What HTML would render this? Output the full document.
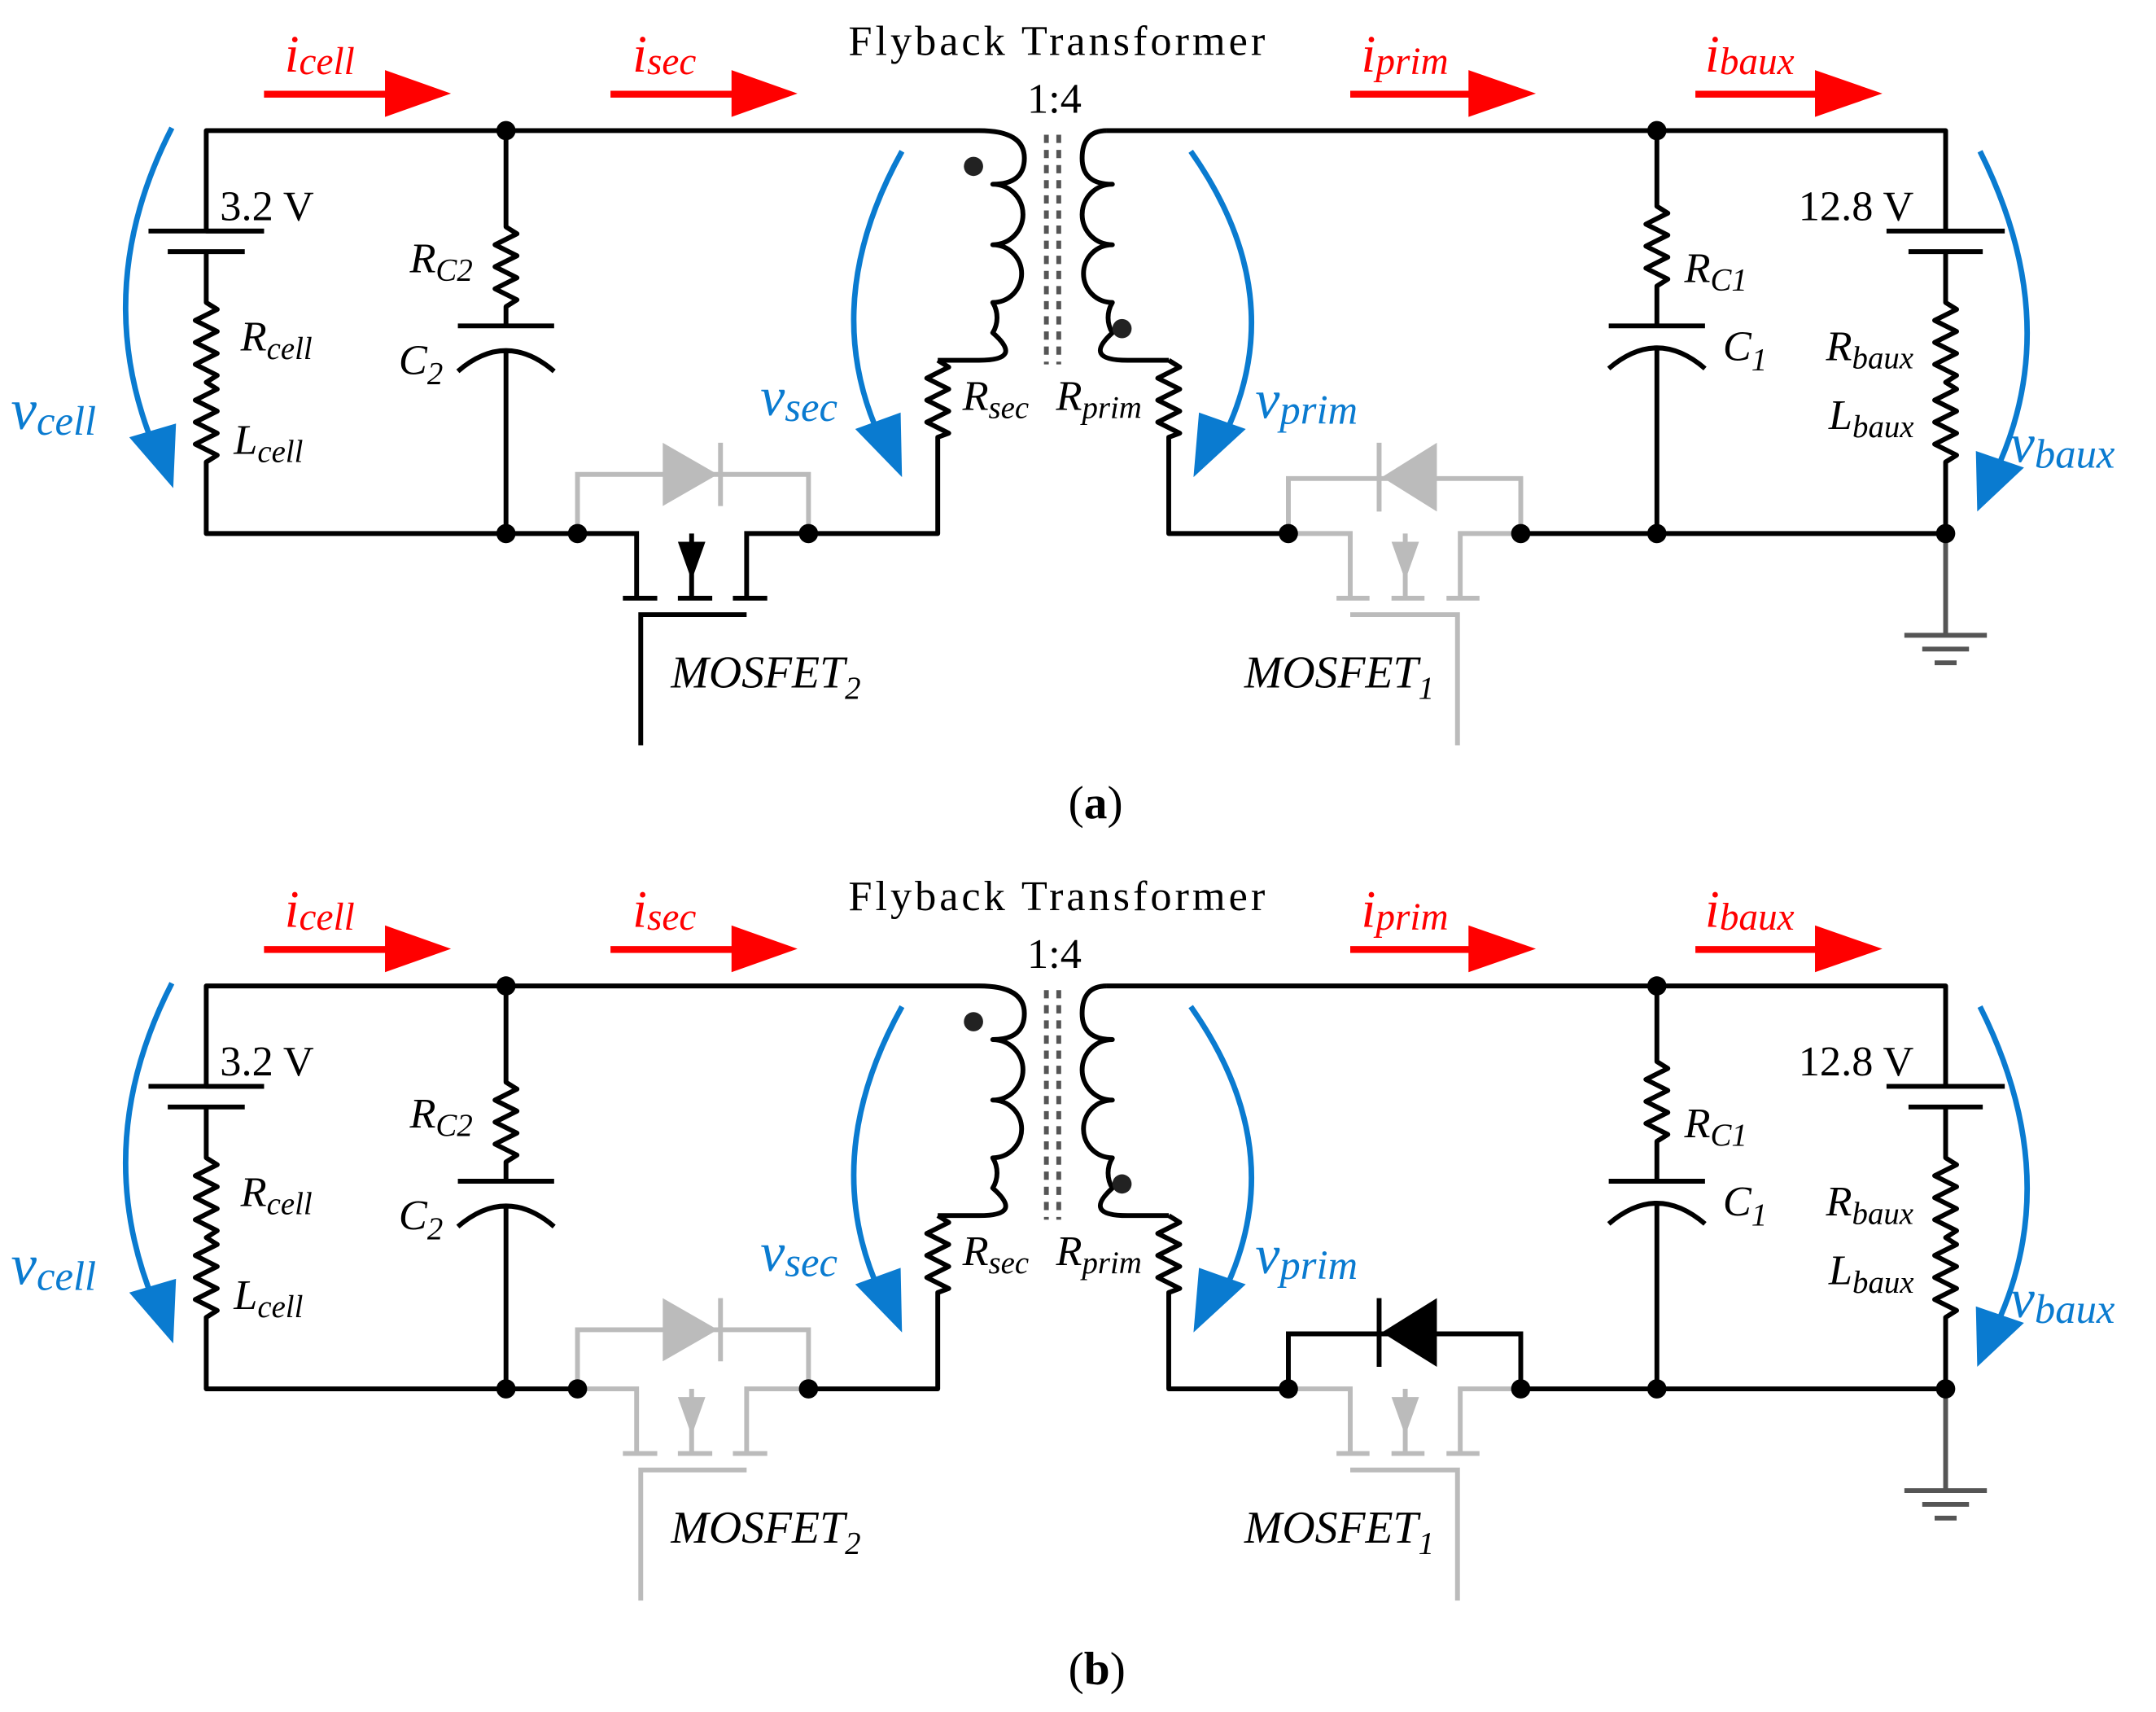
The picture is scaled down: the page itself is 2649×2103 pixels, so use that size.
<!DOCTYPE html>
<html><head><meta charset="utf-8"><style>
html,body{margin:0;padding:0;background:#fff}
svg{display:block}
text{font-family:"Liberation Serif",serif}
.it{font-style:italic}
.r{fill:#ff0000;font-style:italic}
.b{fill:#0a7bd0;font-style:italic}
</style></head><body>
<svg width="2649" height="2103" viewBox="0 0 1568 1245" preserveAspectRatio="none" xmlns="http://www.w3.org/2000/svg">
<!-- ================= PANEL A ================= -->
<g>
<g fill="none" stroke="#000" stroke-width="3.5" stroke-linejoin="round">
  <path d="M192,168 H150 V95 H712 Q745,95 745,115 Q745,134 722,134 A22,22 0 0 1 722,178 A21,21 0 0 1 722,220 A21,21 0 0 1 722,242 Q745,262 712,262 H690 l-8,0"/>
  <path d="M682,262 l8,5 -16,8 16,8 -16,8 16,8 -16,8 16,8 -8,3 V388 H588"/>
  <path d="M805,95 Q787,95 787,115 Q787,134 809,134 A22,22 0 0 0 809,178 A21,21 0 0 0 809,220 A21,21 0 0 0 809,242 Q787,262 820,262 H850"/>
  <path d="M850,262 l8,5 -16,8 16,8 -16,8 16,8 -16,8 16,8 -8,3 V388 H937"/>
  <path d="M805,95 H1415 V168"/>
  <path d="M108,168 H192 M122,183 H178"/>
  <path d="M150,183 V220 l8,5 -16,8 16,8 -16,8 16,8 -16,8 16,8 -8,5 l8,5 -16,8 16,8 -16,8 16,8 -16,8 16,8 -8,5 V388 H420"/>
  <path d="M368,95 V165 l8,5 -16,8 16,8 -16,8 16,8 -16,8 16,8 -8,5 V237 M333,237 H403 M333,270 Q368,240 403,270 M368,254 V388"/>
  <path d="M1205,95 V150 l8,5 -16,8 16,8 -16,8 16,8 -16,8 16,8 -8,5 V237 M1170,237 H1240 M1170,268 Q1205,238 1240,268 M1205,252 V388"/>
  <path d="M1372,168 H1458 M1388,183 H1442"/>
  <path d="M1415,183 V220 l8,5 -16,8 16,8 -16,8 16,8 -16,8 16,8 -8,5 l8,5 -16,8 16,8 -16,8 16,8 -16,8 16,8 -8,5 V388 H1106"/>
</g>
<g fill="none" stroke="#555" stroke-width="3.5"><path d="M1415,388 V462 M1385,462 H1445 M1398,472 H1432 M1407,482 H1423"/></g>
<g stroke="#555" stroke-width="3.5" stroke-dasharray="6,5"><path d="M761,98 V265 M770,98 V265"/></g>
<circle cx="708" cy="121" r="7" fill="#222"/><circle cx="816" cy="239" r="7" fill="#222"/>
<g fill="none" stroke="#000" stroke-width="3.5">
  <path d="M420,388 H463 V435 M543,435 V388 H588 M503,388 V435 M453,435 H478 M493,435 H518 M533,435 H558 M466,542 V447 H543"/>
</g>
<polygon points="493,394 513,394 503,422" fill="#000"/>
<g fill="none" stroke="#bbb" stroke-width="3.5"><path d="M420,388 V345 H588 V388 M524,322 V368"/></g>
<polygon points="482,322 482,368 522,345" fill="#bbb"/>
<g fill="none" stroke="#bbb" stroke-width="3.5">
  <path d="M937,388 H982 V435 M1062,435 V388 H1106 M1022,388 V435 M972,435 H996 M1012,435 H1036 M1052,435 H1076 M982,447 H1060 V542"/>
  <path d="M937,388 V348 H1106 V388 M1003,322 V372"/>
</g>
<polygon points="1012,394 1032,394 1022,422" fill="#bbb"/>
<polygon points="1045,322 1045,372 1005,347" fill="#bbb"/>
<g fill="#000"><circle cx="368" cy="95" r="7"/><circle cx="368" cy="388" r="7"/><circle cx="420" cy="388" r="7"/><circle cx="588" cy="388" r="7"/><circle cx="937" cy="388" r="7"/><circle cx="1106" cy="388" r="7"/><circle cx="1205" cy="95" r="7"/><circle cx="1205" cy="388" r="7"/><circle cx="1415" cy="388" r="7"/></g>
<g fill="#ff0000" stroke="none">
  <rect x="192" y="66" width="95" height="5"/><polygon points="280,51 328,68 280,85"/>
  <rect x="444" y="66" width="95" height="5"/><polygon points="532,51 580,68 532,85"/>
  <rect x="982" y="66" width="90" height="5"/><polygon points="1068,51 1117,68 1068,85"/>
  <rect x="1233" y="66" width="90" height="5"/><polygon points="1320,51 1369,68 1320,85"/>
</g>
<text x="207" y="52" class="r" font-size="38">i<tspan font-size="28" dy="2">cell</tspan></text>
<text x="460" y="52" class="r" font-size="38">i<tspan font-size="28" dy="2">sec</tspan></text>
<text x="990" y="52" class="r" font-size="38">i<tspan font-size="28" dy="2">prim</tspan></text>
<text x="1240" y="52" class="r" font-size="38">i<tspan font-size="28" dy="2">baux</tspan></text>
<g fill="none" stroke="#0a7bd0" stroke-width="4">
  <path d="M125,93 Q65,210 112,325"/>
  <path d="M656,110 Q595,220 640,318"/>
  <path d="M866,110 Q940,215 890,318"/>
  <path d="M1440,110 Q1500,230 1455,335"/>
</g>
<g fill="#0a7bd0">
  <polygon points="94,318 128,308 126,355"/>
  <polygon points="622,312 655,300 656,347"/>
  <polygon points="872,300 906,312 868,347"/>
  <polygon points="1437,328 1472,340 1438,372"/>
</g>
<text x="8" y="312" class="b" font-size="42">v<tspan font-size="30" dy="4">cell</tspan></text>
<text x="553" y="302" class="b" font-size="40">v<tspan font-size="30" dy="4">sec</tspan></text>
<text x="913" y="304" class="b" font-size="40">v<tspan font-size="30" dy="4">prim</tspan></text>
<text x="1462" y="336" class="b" font-size="40">v<tspan font-size="30" dy="4">baux</tspan></text>
<g font-size="31" fill="#000">
<text x="160" y="160">3.2 V</text>
<text x="1308" y="160">12.8 V</text>
<text x="617" y="40" textLength="303" lengthAdjust="spacing">Flyback Transformer</text>
<text x="747" y="82">1:4</text>
<text x="777" y="595" font-size="34">(<tspan font-weight="bold">a</tspan>)</text>
</g>
<g font-size="31" class="it" fill="#000">
<text x="298" y="198">R<tspan font-size="23" dy="6">C2</tspan></text>
<text x="290" y="272">C<tspan font-size="23" dy="7">2</tspan></text>
<text x="175" y="255">R<tspan font-size="23" dy="6">cell</tspan></text>
<text x="170" y="330">L<tspan font-size="23" dy="6">cell</tspan></text>
<text x="700" y="298">R<tspan font-size="23" dy="6">sec</tspan></text>
<text x="768" y="298">R<tspan font-size="23" dy="6">prim</tspan></text>
<text x="1225" y="205">R<tspan font-size="23" dy="6">C1</tspan></text>
<text x="1253" y="262">C<tspan font-size="23" dy="7">1</tspan></text>
<text x="1328" y="262">R<tspan font-size="23" dy="6">baux</tspan></text>
<text x="1330" y="312">L<tspan font-size="23" dy="6">baux</tspan></text>
<text x="488" y="500" font-size="33">MOSFET<tspan font-size="23" dy="8">2</tspan></text>
<text x="905" y="500" font-size="33">MOSFET<tspan font-size="23" dy="8">1</tspan></text>
</g>
</g>

<!-- ================= PANEL B ================= -->
<g transform="translate(0,622)">
<g fill="none" stroke="#000" stroke-width="3.5" stroke-linejoin="round">
  <path d="M192,168 H150 V95 H712 Q745,95 745,115 Q745,134 722,134 A22,22 0 0 1 722,178 A21,21 0 0 1 722,220 A21,21 0 0 1 722,242 Q745,262 712,262 H690 l-8,0"/>
  <path d="M682,262 l8,5 -16,8 16,8 -16,8 16,8 -16,8 16,8 -8,3 V388 H588"/>
  <path d="M805,95 Q787,95 787,115 Q787,134 809,134 A22,22 0 0 0 809,178 A21,21 0 0 0 809,220 A21,21 0 0 0 809,242 Q787,262 820,262 H850"/>
  <path d="M850,262 l8,5 -16,8 16,8 -16,8 16,8 -16,8 16,8 -8,3 V388 H937"/>
  <path d="M805,95 H1415 V168"/>
  <path d="M108,168 H192 M122,183 H178"/>
  <path d="M150,183 V220 l8,5 -16,8 16,8 -16,8 16,8 -16,8 16,8 -8,5 l8,5 -16,8 16,8 -16,8 16,8 -16,8 16,8 -8,5 V388 H420"/>
  <path d="M368,95 V165 l8,5 -16,8 16,8 -16,8 16,8 -16,8 16,8 -8,5 V237 M333,237 H403 M333,270 Q368,240 403,270 M368,254 V388"/>
  <path d="M1205,95 V150 l8,5 -16,8 16,8 -16,8 16,8 -16,8 16,8 -8,5 V237 M1170,237 H1240 M1170,268 Q1205,238 1240,268 M1205,252 V388"/>
  <path d="M1372,168 H1458 M1388,183 H1442"/>
  <path d="M1415,183 V220 l8,5 -16,8 16,8 -16,8 16,8 -16,8 16,8 -8,5 l8,5 -16,8 16,8 -16,8 16,8 -16,8 16,8 -8,5 V388 H1106"/>
</g>
<g fill="none" stroke="#555" stroke-width="3.5"><path d="M1415,388 V462 M1385,462 H1445 M1398,472 H1432 M1407,482 H1423"/></g>
<g stroke="#555" stroke-width="3.5" stroke-dasharray="6,5"><path d="M761,98 V265 M770,98 V265"/></g>
<circle cx="708" cy="121" r="7" fill="#222"/><circle cx="816" cy="239" r="7" fill="#222"/>
<g fill="none" stroke="#bbb" stroke-width="3.5">
  <path d="M420,388 H463 V435 M543,435 V388 H588 M503,388 V435 M453,435 H478 M493,435 H518 M533,435 H558 M466,542 V447 H543"/>
  <path d="M420,388 V345 H588 V388 M524,322 V368"/>
</g>
<polygon points="493,394 513,394 503,422" fill="#bbb"/>
<polygon points="482,322 482,368 522,345" fill="#bbb"/>
<g fill="none" stroke="#bbb" stroke-width="3.5">
  <path d="M937,388 H982 V435 M1062,435 V388 H1106 M1022,388 V435 M972,435 H996 M1012,435 H1036 M1052,435 H1076 M982,447 H1060 V542"/>
</g>
<polygon points="1012,394 1032,394 1022,422" fill="#bbb"/>
<g fill="none" stroke="#000" stroke-width="3.5"><path d="M937,388 V348 H1106 V388 M1003,322 V372"/></g>
<polygon points="1045,322 1045,372 1005,347" fill="#000"/>
<g fill="#000"><circle cx="368" cy="95" r="7"/><circle cx="368" cy="388" r="7"/><circle cx="420" cy="388" r="7"/><circle cx="588" cy="388" r="7"/><circle cx="937" cy="388" r="7"/><circle cx="1106" cy="388" r="7"/><circle cx="1205" cy="95" r="7"/><circle cx="1205" cy="388" r="7"/><circle cx="1415" cy="388" r="7"/></g>
<g fill="#ff0000" stroke="none">
  <rect x="192" y="66" width="95" height="5"/><polygon points="280,51 328,68 280,85"/>
  <rect x="444" y="66" width="95" height="5"/><polygon points="532,51 580,68 532,85"/>
  <rect x="982" y="66" width="90" height="5"/><polygon points="1068,51 1117,68 1068,85"/>
  <rect x="1233" y="66" width="90" height="5"/><polygon points="1320,51 1369,68 1320,85"/>
</g>
<text x="207" y="52" class="r" font-size="38">i<tspan font-size="28" dy="2">cell</tspan></text>
<text x="460" y="52" class="r" font-size="38">i<tspan font-size="28" dy="2">sec</tspan></text>
<text x="990" y="52" class="r" font-size="38">i<tspan font-size="28" dy="2">prim</tspan></text>
<text x="1240" y="52" class="r" font-size="38">i<tspan font-size="28" dy="2">baux</tspan></text>
<g fill="none" stroke="#0a7bd0" stroke-width="4">
  <path d="M125,93 Q65,210 112,325"/>
  <path d="M656,110 Q595,220 640,318"/>
  <path d="M866,110 Q940,215 890,318"/>
  <path d="M1440,110 Q1500,230 1455,335"/>
</g>
<g fill="#0a7bd0">
  <polygon points="94,318 128,308 126,355"/>
  <polygon points="622,312 655,300 656,347"/>
  <polygon points="872,300 906,312 868,347"/>
  <polygon points="1437,328 1472,340 1438,372"/>
</g>
<text x="8" y="312" class="b" font-size="42">v<tspan font-size="30" dy="4">cell</tspan></text>
<text x="553" y="302" class="b" font-size="40">v<tspan font-size="30" dy="4">sec</tspan></text>
<text x="913" y="304" class="b" font-size="40">v<tspan font-size="30" dy="4">prim</tspan></text>
<text x="1462" y="336" class="b" font-size="40">v<tspan font-size="30" dy="4">baux</tspan></text>
<g font-size="31" fill="#000">
<text x="160" y="160">3.2 V</text>
<text x="1308" y="160">12.8 V</text>
<text x="617" y="40" textLength="303" lengthAdjust="spacing">Flyback Transformer</text>
<text x="747" y="82">1:4</text>
<text x="777" y="603" font-size="34">(<tspan font-weight="bold">b</tspan>)</text>
</g>
<g font-size="31" class="it" fill="#000">
<text x="298" y="198">R<tspan font-size="23" dy="6">C2</tspan></text>
<text x="290" y="272">C<tspan font-size="23" dy="7">2</tspan></text>
<text x="175" y="255">R<tspan font-size="23" dy="6">cell</tspan></text>
<text x="170" y="330">L<tspan font-size="23" dy="6">cell</tspan></text>
<text x="700" y="298">R<tspan font-size="23" dy="6">sec</tspan></text>
<text x="768" y="298">R<tspan font-size="23" dy="6">prim</tspan></text>
<text x="1225" y="205">R<tspan font-size="23" dy="6">C1</tspan></text>
<text x="1253" y="262">C<tspan font-size="23" dy="7">1</tspan></text>
<text x="1328" y="262">R<tspan font-size="23" dy="6">baux</tspan></text>
<text x="1330" y="312">L<tspan font-size="23" dy="6">baux</tspan></text>
<text x="488" y="500" font-size="33">MOSFET<tspan font-size="23" dy="8">2</tspan></text>
<text x="905" y="500" font-size="33">MOSFET<tspan font-size="23" dy="8">1</tspan></text>
</g>
</g>
</svg>
</body></html>
